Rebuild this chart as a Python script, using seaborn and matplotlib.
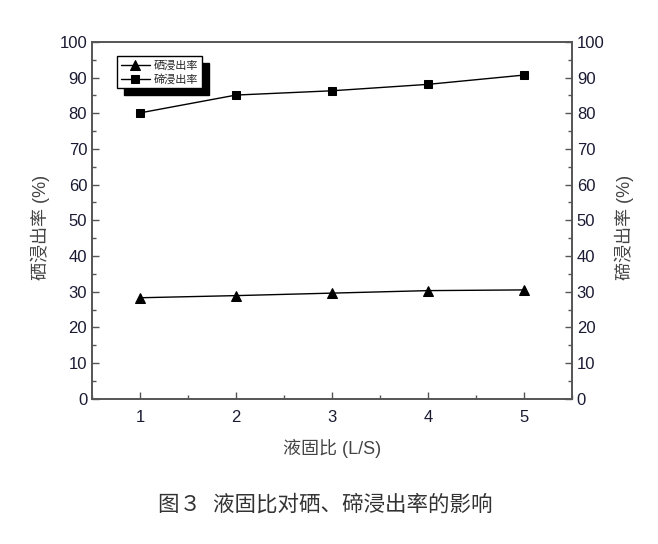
import seaborn as sns
import matplotlib.pyplot as plt
import pandas as pd
from matplotlib.ticker import MultipleLocator

# 液固比
ratio = [1, 2, 3, 4, 5]
# 硒浸出率 (%)
se_rate = [28.3, 28.9, 29.6, 30.3, 30.5]
# 碲浸出率 (%)
te_rate = [80.1, 85.1, 86.3, 88.1, 90.7]

df = pd.DataFrame({"ratio": ratio, "se": se_rate, "te": te_rate})

sns.set_style("ticks")
plt.rcParams['font.family'] = ['Liberation Sans', 'Noto Sans CJK SC', 'DejaVu Sans']

fig = plt.figure(figsize=(6.58, 5.44), dpi=100)
ax = fig.add_axes([0.1398, 0.267, 0.7294, 0.656])
ax2 = ax.twinx()

sns.lineplot(data=df, x="ratio", y="se", ax=ax, color="black", marker="^",
             markersize=7, markeredgecolor="black", linewidth=1, label="硒浸出率")
sns.lineplot(data=df, x="ratio", y="te", ax=ax2, color="black", marker="s",
             markersize=6, markeredgecolor="black", linewidth=1, label="碲浸出率")

spine_col = "#555555"
tick_col = "#1a1a33"
for a in (ax, ax2):
    a.set_xlim(0.5, 5.5)
    a.set_ylim(0, 100)
    a.yaxis.set_major_locator(MultipleLocator(10))
    a.yaxis.set_minor_locator(MultipleLocator(5))
    a.xaxis.set_major_locator(MultipleLocator(1))
    a.xaxis.set_minor_locator(MultipleLocator(0.5))
    a.tick_params(which="major", direction="in", length=5, width=1, color=spine_col,
                  labelsize=12, labelcolor=tick_col)
    a.tick_params(which="minor", direction="in", length=3, width=1, color=spine_col)
    for s in a.spines.values():
        s.set_color(spine_col)
        s.set_linewidth(1.2)
    if a.get_legend() is not None:
        a.get_legend().remove()

ax.tick_params(axis="x", pad=8)
ax.set_xlabel("液固比 (L/S)", fontsize=13, color="#444444", labelpad=10)
ax.set_ylabel("硒浸出率 (%)", fontsize=13, color="#444444", labelpad=7)
ax2.set_ylabel("碲浸出率 (%)", fontsize=13, color="#444444", labelpad=7)
ax.yaxis.label.set_y(0.48)
ax2.yaxis.label.set_y(0.48)

h1, l1 = ax.get_legend_handles_labels()
h2, l2 = ax2.get_legend_handles_labels()
leg = ax2.legend(h1 + h2, l1 + l2, loc="upper left", bbox_to_anchor=(0.04, 0.975),
                 fontsize=8, frameon=True, fancybox=False, framealpha=1,
                 edgecolor="black", handlelength=2.6, handletextpad=0.4,
                 borderpad=0.35, labelspacing=0.25,
                 shadow={"ox": 5, "oy": -5, "color": "black", "alpha": 1})
leg.get_frame().set_linewidth(1)

fig.text(0.495, 0.072, "图３  液固比对硒、碲浸出率的影响", ha="center", va="center",
         fontsize=15.5, color="#333333")

fig.savefig("out.png", dpi=100)
